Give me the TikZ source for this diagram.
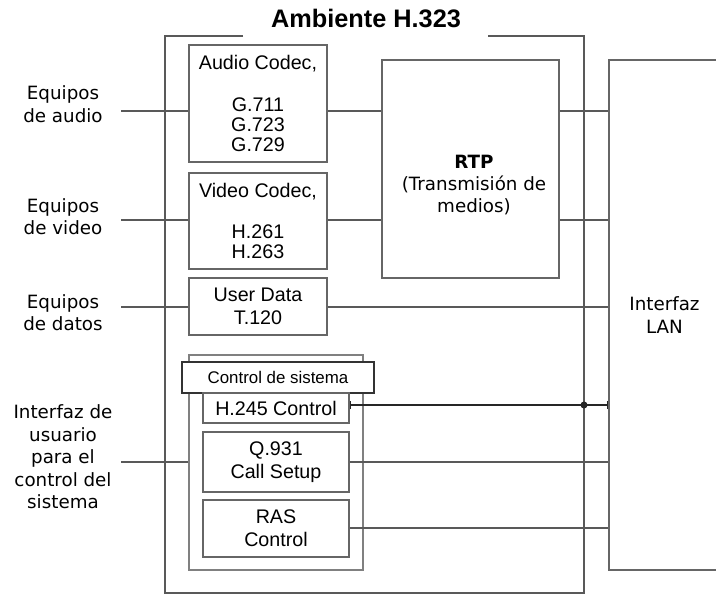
\documentclass[tikz,border=0pt]{standalone}
\usepackage{fontspec}
\setmainfont{Liberation Sans}
\newfontfamily\pixfont{DejaVu Sans}
\usetikzlibrary{arrows.meta,positioning}

\begin{document}
\begin{tikzpicture}[x=0.025cm,y=-0.025cm,
  box/.style={draw=black!60,line width=1.1pt,rectangle,inner sep=0pt,
    align=center,fill=white,font=\fontsize{14}{14.2}\selectfont},
  link/.style={draw=black!65,line width=1.1pt},
  side/.style={font=\pixfont\fontsize{13}{16}\selectfont,align=center}
  ]

\useasboundingbox (0,0) rectangle (716,596);
\clip (0,0) rectangle (716,596);

% Title and the H.323 frame
\node[font=\bfseries\fontsize{18}{20}\selectfont] (title) at (366,18) {Ambiente H.323};
\draw[link] (243,36) -- (165,36) -- (165,593) -- (584,593) -- (584,36) -- (488,36);

% Codecs and data
\node[box,minimum width=3.45cm,minimum height=2.925cm] (audio) at (258,103.5)
  {Audio Codec,\\[15.5pt]G.711\\G.723\\G.729};
\node[box,minimum width=3.45cm,minimum height=2.4cm] (video) at (258,221)
  {Video Codec,\\[15pt]H.261\\H.263};
\node[box,minimum width=3.45cm,minimum height=1.425cm] (udata) at (258,306.5)
  {User Data\\[2pt]T.120};

% RTP
\node[box,minimum width=4.425cm,minimum height=5.45cm] (rtp) at (470.5,169) {};
\node[side,font=\pixfont\fontsize{13}{15.5}\selectfont] (rtplbl) at (474,185)
  {\textbf{RTP}\\(Transmisión de\\medios)};

% System control group
\node[box,draw=black!50,minimum width=4.35cm,minimum height=5.375cm] (group) at (276,462.5) {};
\node[box,draw=black!80,minimum width=4.8cm,minimum height=0.775cm,
  font=\fontsize{12}{12}\selectfont] (ctrl) at (278,377.5) {Control de sistema};
\node[box,minimum width=3.65cm,minimum height=0.75cm] (h245) at (276,408) {H.245 Control};
\node[box,minimum width=3.65cm,minimum height=1.5cm] (q931) at (276,462)
  {Q.931\\[2pt]Call Setup};
\node[box,minimum width=3.65cm,minimum height=1.425cm] (ras) at (276,528.5)
  {RAS\\[2pt]Control};

% LAN interface
\node[box,minimum width=2.775cm,minimum height=12.75cm,font=\pixfont\fontsize{13}{16}\selectfont]
  (lan) at (664.5,315) {Interfaz\\LAN};

% Labels on left
\node[side] (audioeq) at (63,104) {Equipos\\de audio};
\node[side] (videoeq) at (63,216.5) {Equipos\\de video};
\node[side] (datoseq) at (63,312.5) {Equipos\\de datos};
\node[side] (usereq) at (63,457) {Interfaz de\\usuario\\para el\\control del\\sistema};

% Inputs
\draw[link] (audio.west |- 0,111) -- ++(-67,0);
\draw[link] (video.west |- 0,220) -- ++(-67,0);
\draw[link] (udata.west |- 0,307) -- ++(-67,0);
\draw[link] (group.west |- 0,462) -- ++(-67,0);

% Media paths
\draw[link] (audio.east |- 0,111) -- (rtp.west |- 0,111);
\draw[link] (video.east |- 0,220) -- (rtp.west |- 0,220);
\draw[link] (rtp.east |- 0,111) -- (lan.west |- 0,111);
\draw[link] (rtp.east |- 0,220) -- (lan.west |- 0,220);
\draw[link] (udata.east |- 0,307) -- (lan.west |- 0,307);

% Control paths
\draw[link,draw=black!85,{Bar[width=6pt]}-{Bar[width=6pt]}]
  (h245.east |- 0,405) -- (lan.west |- 0,405);
\fill[black!85] (584,405) circle (2.5pt);
\draw[link] (q931.east) -- (lan.west |- q931.east);
\draw[link] (ras.east |- 0,528) -- (lan.west |- 0,528);

\end{tikzpicture}
\end{document}
